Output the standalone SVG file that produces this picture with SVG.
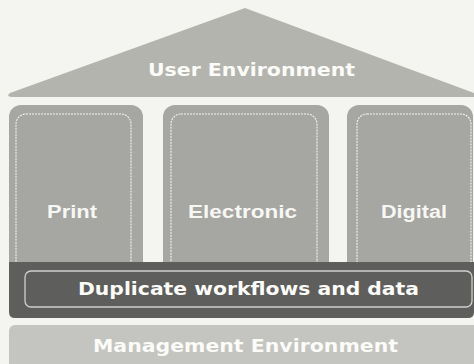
<svg xmlns="http://www.w3.org/2000/svg" width="474" height="364" viewBox="0 0 474 364">
  <style>
    .roof { fill: #b4b4af; }
    .pillar { fill: #a6a6a2; }
    .inner { fill: none; stroke: #f4f4f0; stroke-width: 1.1; stroke-dasharray: 2 1; }
    .band { fill: #5e5e5c; }
    .bandInner { fill: none; stroke: #cfcfcb; stroke-width: 1.3; }
    .base { fill: #c4c4c0; }
    .hdr { font-family: "DejaVu Sans", "Liberation Sans", sans-serif; font-weight: bold; font-size: 17px; fill: #fbfbf8; text-anchor: middle; }
    .lbl { font-family: "Liberation Sans", Arial, sans-serif; font-weight: bold; font-size: 18px; fill: #f7f7f4; text-anchor: middle; }
  </style>
  <rect x="0" y="0" width="474" height="364" fill="#f4f4f0"/>

  <g id="user-environment">
    <path class="roof" d="M 13 97 Q 5 97 10 93 L 245 8 L 474 93 L 474 97 Z"/>
    <text class="hdr" x="251.5" y="76" textLength="207" lengthAdjust="spacingAndGlyphs">User Environment</text>
  </g>

  <g id="print">
    <rect class="pillar" x="9" y="105" width="134" height="175" rx="12"/>
    <rect class="inner" x="16" y="114" width="115" height="170" rx="10"/>
    <text class="lbl" x="72" y="218" textLength="50" lengthAdjust="spacingAndGlyphs">Print</text>
  </g>

  <g id="electronic">
    <rect class="pillar" x="163" y="105" width="166" height="175" rx="12"/>
    <rect class="inner" x="171" y="114" width="146" height="170" rx="10"/>
    <text class="lbl" x="242.5" y="218" textLength="109" lengthAdjust="spacingAndGlyphs">Electronic</text>
  </g>

  <g id="digital">
    <rect class="pillar" x="347" y="105" width="126" height="175" rx="12"/>
    <rect class="inner" x="357" y="114" width="114" height="170" rx="10"/>
    <text class="lbl" x="414" y="218" textLength="66" lengthAdjust="spacingAndGlyphs">Digital</text>
  </g>

  <g id="duplicate-workflows">
    <path class="band" d="M 9 262 L 474 262 L 474 312 Q 474 318 468 318 L 15 318 Q 9 318 9 312 Z"/>
    <rect class="bandInner" x="25" y="271" width="447" height="36" rx="6"/>
    <text class="hdr" x="248.5" y="295" textLength="341" lengthAdjust="spacingAndGlyphs">Duplicate workflows and data</text>
  </g>

  <g id="management-environment">
    <rect class="base" x="9" y="325" width="470" height="50" rx="6"/>
    <text class="hdr" x="245.5" y="352" textLength="305" lengthAdjust="spacingAndGlyphs">Management Environment</text>
  </g>
</svg>
